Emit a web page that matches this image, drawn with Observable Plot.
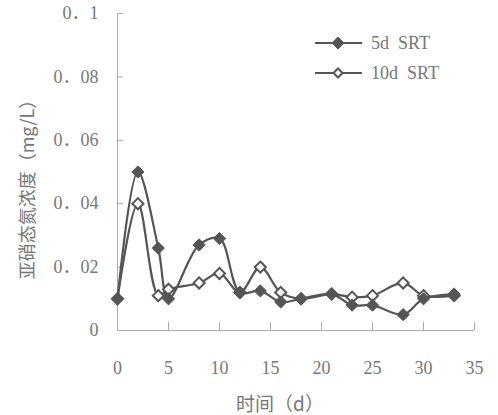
<!DOCTYPE html>
<html><head><meta charset="utf-8">
<script src="https://cdn.jsdelivr.net/npm/d3@7"></script>
<script src="https://cdn.jsdelivr.net/npm/@observablehq/plot@0.6"></script>
<style>
body{margin:0;background:#fff;}
#wrap{position:relative;width:498px;height:415px;font-family:"Liberation Serif","Noto Sans CJK SC",serif;}
#legend{position:absolute;left:0;top:0;}
</style></head>
<body><div id="wrap"></div>
<script>
const days = [0,2,4,5,8,10,12,14,16,18,21,23,25,28,30,33];
const srt5 = [0.010,0.050,0.026,0.010,0.027,0.029,0.012,0.0125,0.009,0.010,0.0115,0.008,0.008,0.005,0.010,0.0115];
const srt10 = [0.010,0.040,0.011,0.013,0.015,0.018,0.012,0.020,0.012,0.010,0.0115,0.0105,0.011,0.015,0.011,0.011];
const seriesNames = ["5d SRT","10d SRT"];
const xTicks = [0,5,10,15,20,25,30,35];
const yTicks = [0,0.02,0.04,0.06,0.08,0.1];
const yTickLabels = ["0","0．02","0．04","0．06","0．08","0．1"];
const xLabel = "时间（d）";
const yLabel = "亚硝态氮浓度（mg/L）";

const d5 = days.map((d,i)=>({x:d,y:srt5[i]}));
const d10 = days.map((d,i)=>({x:d,y:srt10[i]}));
const lineColor = "#555";
const axisColor = "#aaa";
const textColor = "#777";

const chart = Plot.plot({
  width: 498, height: 415,
  marginLeft: 117, marginRight: 24, marginTop: 13, marginBottom: 85,
  style: {fontFamily: '"Liberation Serif","Noto Sans CJK SC",serif', fontSize: "18px", background: "#fff"},
  x: {domain: [0,35]},
  y: {domain: [0,0.1]},
  marks: [
    Plot.axisX(xTicks, {tickSize: 0, tickPadding: 31, color: textColor, label: null, fontSize: 18}),
    Plot.axisY(yTicks, {tickSize: 0, tickPadding: 19, color: textColor, label: null, fontSize: 18,
      tickFormat: d => yTickLabels[yTicks.indexOf(d)]}),
    Plot.ruleX(xTicks.slice(1), {x: d=>d, y1: 0, y2: 0.0025, stroke: axisColor}),
    Plot.ruleY(yTicks.slice(1), {y: d=>d, x1: 0, x2: 0.6, stroke: axisColor}),
    Plot.ruleY([0], {stroke: axisColor}),
    Plot.ruleX([0], {stroke: axisColor}),
    Plot.line(d10, {x:"x", y:"y", curve:"catmull-rom", stroke: lineColor, strokeWidth: 2.2}),
    Plot.line(d5, {x:"x", y:"y", curve:"catmull-rom", stroke: lineColor, strokeWidth: 2.2}),
    Plot.dot(d10, {x:"x", y:"y", symbol:"diamond2", r:5, fill:"#fff", stroke: lineColor, strokeWidth: 2}),
    Plot.dot(d5, {x:"x", y:"y", symbol:"diamond2", r:5.5, fill: lineColor, stroke: lineColor, strokeWidth: 1}),
    Plot.text([xLabel], {frameAnchor: "bottom", textAnchor: "middle", lineAnchor: "middle", dy: 74, dx: -16, fill: textColor, fontSize: 19, fontFamily: '"Noto Sans CJK SC",sans-serif'}),
    Plot.text([yLabel], {frameAnchor: "left", textAnchor: "middle", lineAnchor: "middle", rotate: -90, dx: -89, dy: 13, fill: textColor, fontSize: 18, fontFamily: '"Noto Sans CJK SC",sans-serif', letterSpacing: 1.5})
  ]
});
const wrap = document.getElementById("wrap");
wrap.appendChild(chart);

// legend overlay
const ns = "http://www.w3.org/2000/svg";
const leg = document.createElementNS(ns, "svg");
leg.setAttribute("id","legend");
leg.setAttribute("width","498"); leg.setAttribute("height","415");
leg.style.position="absolute"; leg.style.left="0"; leg.style.top="0";
const rows = [{name: seriesNames[0], filled: true, y: 43},{name: seriesNames[1], filled: false, y: 73}];
rows.forEach(r => {
  const l = document.createElementNS(ns,"line");
  l.setAttribute("x1",315); l.setAttribute("x2",362); l.setAttribute("y1",r.y); l.setAttribute("y2",r.y);
  l.setAttribute("stroke",lineColor); l.setAttribute("stroke-width",2.2);
  leg.appendChild(l);
  const p = document.createElementNS(ns,"path");
  const s = r.filled ? 6 : 4.5;
  p.setAttribute("d",`M338,${r.y-s}L${338+s},${r.y}L338,${r.y+s}L${338-s},${r.y}Z`);
  p.setAttribute("fill", r.filled ? lineColor : "#fff");
  p.setAttribute("stroke", lineColor); p.setAttribute("stroke-width", r.filled?1:2);
  leg.appendChild(p);
  const t = document.createElementNS(ns,"text");
  t.setAttribute("x",371); t.setAttribute("y",r.y); t.setAttribute("dy","0.35em");
  t.setAttribute("fill",textColor); t.setAttribute("font-size","18");
  t.setAttribute("font-family",'"Liberation Serif",serif');
  t.setAttribute("style","white-space:pre");
  t.textContent = r.name.replace(" ", "\u00a0\u00a0");
  leg.appendChild(t);
});
wrap.appendChild(leg);
</script></body></html>
